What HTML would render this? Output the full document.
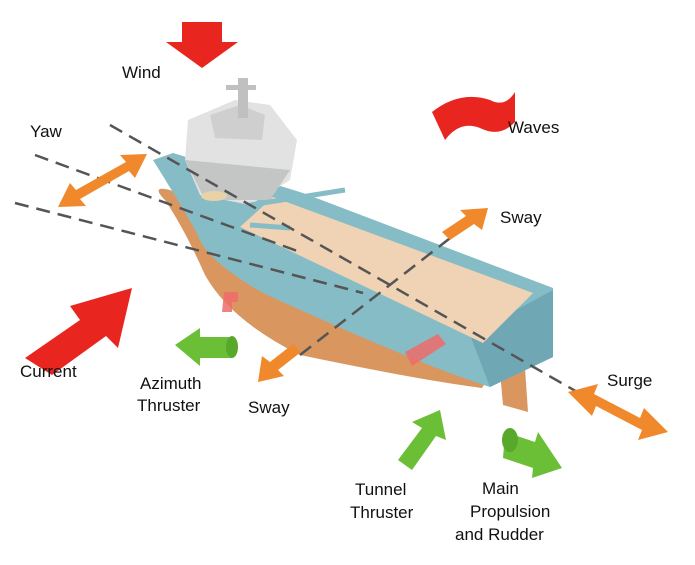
<!DOCTYPE html>
<html><head><meta charset="utf-8"><style>
html,body{margin:0;padding:0;background:#fff;}
svg{display:block}
text{font-family:"Liberation Sans",sans-serif;font-size:17px;fill:#111;}
</style></head><body>
<svg width="695" height="565" viewBox="0 0 695 565" xmlns="http://www.w3.org/2000/svg">
<rect width="695" height="565" fill="#fff"/>
<!-- brown lower hull -->
<path d="M165,200 Q150,185 170,190 L220,215 L490,375 L482,388 Q420,380 300,355 Q230,320 205,275 Q185,230 165,200 Z" fill="#d9975f"/>
<!-- stern rudder -->
<polygon points="500,372 525,368 528,412 503,405" fill="#d9975f"/>
<!-- teal hull -->
<path d="M153,160 L173,153 L303,193 L553,288 L553,357 L490,387 Q420,365 263,293 Q205,260 197,233 Q175,195 153,160 Z" fill="#86bcc6"/>
<polygon points="470,335 553,290 553,357 490,387" fill="#6fa8b4"/>
<!-- deck -->
<polygon points="273,197 533,293 483,343 240,227" fill="#f0d3b4"/>
<!-- superstructure -->
<polygon points="188,120 235,100 270,105 297,140 290,180 250,205 200,195 185,160" fill="#e2e2e2"/>
<polygon points="210,115 240,105 265,115 262,140 215,138" fill="#cfcfcf"/>
<polygon points="185,160 290,170 270,200 205,200" fill="#c4c6c6"/>
<rect x="238" y="78" width="10" height="40" fill="#c0c0c0"/>
<rect x="226" y="85" width="30" height="5" fill="#c0c0c0"/>
<ellipse cx="214" cy="196" rx="13" ry="5" fill="#e8d2a8"/>
<line x1="250" y1="205" x2="345" y2="190" stroke="#86bcc6" stroke-width="5"/>
<line x1="250" y1="225" x2="290" y2="228" stroke="#86bcc6" stroke-width="5"/>
<!-- red thrusters on hull -->
<path d="M224,292 h14 v10 h-6 v10 h-10 z" fill="#ef6b6b" opacity=".85"/>
<polygon points="405,352 438,334 446,344 412,366" fill="#ef6b6b" opacity=".85"/>
<!-- dashed lines -->
<g stroke="#555" stroke-width="2.5" stroke-dasharray="14,8" fill="none">
<line x1="15" y1="203" x2="363" y2="293"/>
<line x1="35" y1="155" x2="300" y2="252"/>
<line x1="110" y1="125" x2="600" y2="405"/>
<line x1="300" y1="355" x2="463" y2="228"/>
</g>
<!-- wind -->
<polygon points="182,22 222,22 222,42 238,42 202,68 166,42 182,42" fill="#e8261f"/>
<!-- waves -->
<path d="M432,112 Q460,90 490,100 Q505,108 515,92 L515,122 Q500,138 480,128 Q460,120 445,140 Z" fill="#e8261f"/>
<!-- yaw arrow -->
<polygon points="58,207 70,183 76,190 126,162 120,155 147,154 135,178 129,171 80,199 86,206" fill="#f0892c"/>
<!-- current -->
<polygon points="25,358 80,320 70,306 132,288 118,348 106,336 52,375" fill="#e8261f"/>
<!-- azimuth -->
<polygon points="175,345 200,328 200,337 232,337 232,358 200,358 200,366" fill="#6bbf36"/>
<ellipse cx="232" cy="347" rx="6" ry="11" fill="#58a82b"/>
<!-- sway lower -->
<polygon points="258,382 262,356 270,362 293,344 301,352 278,370 284,376" fill="#f0892c"/>
<!-- sway upper -->
<polygon points="488,208 482,230 474,224 450,240 442,232 466,216 460,210" fill="#f0892c"/>
<!-- surge -->
<polygon points="568,392 598,384 594,394 640,418 644,408 668,432 638,440 642,430 596,406 592,416" fill="#f0892c"/>
<!-- tunnel -->
<polygon points="440,410 446,440 436,436 412,470 398,460 422,428 412,422" fill="#6bbf36"/>
<!-- main propulsion -->
<polygon points="505,432 535,442 538,432 562,468 532,478 533,468 503,458" fill="#6bbf36"/>
<ellipse cx="510" cy="440" rx="8" ry="12" fill="#58a82b"/>
<!-- labels -->
<text x="122" y="78">Wind</text>
<text x="508" y="133">Waves</text>
<text x="30" y="137">Yaw</text>
<text x="500" y="223">Sway</text>
<text x="20" y="377">Current</text>
<text x="140" y="389">Azimuth</text>
<text x="137" y="411">Thruster</text>
<text x="248" y="413">Sway</text>
<text x="607" y="386">Surge</text>
<text x="355" y="495">Tunnel</text>
<text x="350" y="518">Thruster</text>
<text x="482" y="494">Main</text>
<text x="470" y="517">Propulsion</text>
<text x="455" y="540">and Rudder</text>
</svg>
</body></html>
